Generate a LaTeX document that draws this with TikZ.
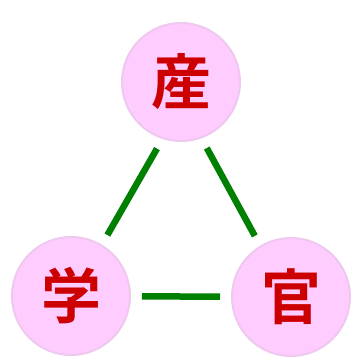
\documentclass[tikz,border=0pt]{standalone}
\usepackage{fontspec}
\newfontfamily\cjk{Noto Sans CJK JP}[BoldFont=* Bold]
\usepackage{xcolor}
\usetikzlibrary{positioning,calc}
\definecolor{ballpink}{RGB}{255,204,255}
\definecolor{ballrim}{RGB}{238,200,238}
\definecolor{kanjired}{RGB}{204,0,0}
\definecolor{linkgreen}{RGB}{0,128,0}

\begin{document}
\begin{tikzpicture}[
  x=1pt, y=-1pt,
  ball/.style={circle, fill=ballpink, draw=ballrim, line width=2pt, minimum size=118pt, inner sep=0pt, text=kanjired, font=\cjk\bfseries\fontsize{60}{60}\selectfont},
  link/.style={draw=linkgreen, line width=6.5pt, shorten >=11pt, shorten <=11pt}
]
\useasboundingbox (0,0) rectangle (356,359);
\node[ball] (san) at (181,82) {産};
\node[ball] (gaku) at (71,296) {学};
\node[ball] (kan) at (291,297) {官};
\draw[link] (san.252) -- (gaku.59);
\draw[link] (san.290) -- (kan.121);
\draw[link] (gaku) -- (kan);
\end{tikzpicture}
\end{document}
